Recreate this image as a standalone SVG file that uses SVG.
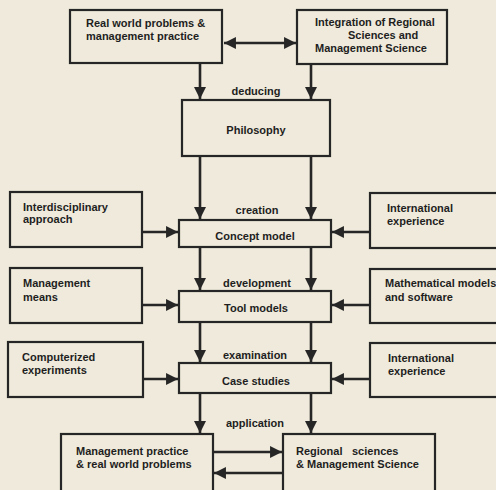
<svg xmlns="http://www.w3.org/2000/svg" width="496" height="490" viewBox="0 0 496 490">
<style>
.box{fill:none;stroke:#262626;stroke-width:2.2}
.ln{fill:none;stroke:#262626;stroke-width:2.6}
text{font-family:"Liberation Sans",Arial,sans-serif;font-weight:bold;font-size:11px;fill:#1e1e1e}
.c{text-anchor:middle}
</style>
<defs>
<marker id="ah" viewBox="0 0 10 10" refX="10" refY="5" markerWidth="4.6" markerHeight="4.6" orient="auto-start-reverse" markerUnits="strokeWidth">
<path d="M0,0 L10,5 L0,10 Z" fill="#262626"/>
</marker>
</defs>
<rect width="496" height="490" fill="#efeadb"/>
<g id="connectors">
<line class="ln" x1="224" y1="43" x2="296" y2="43" marker-start="url(#ah)" marker-end="url(#ah)"/>
<line class="ln" x1="200" y1="63" x2="200" y2="99"  marker-end="url(#ah)"/>
<line class="ln" x1="311" y1="64" x2="311" y2="99" marker-end="url(#ah)"/>
<line class="ln" x1="200" y1="156" x2="200" y2="219" marker-end="url(#ah)"/>
<line class="ln" x1="311" y1="156" x2="311" y2="219" marker-end="url(#ah)"/>
<line class="ln" x1="142" y1="232" x2="178" y2="232" marker-end="url(#ah)"/>
<line class="ln" x1="369" y1="232" x2="332" y2="232" marker-end="url(#ah)"/>
<line class="ln" x1="200" y1="247" x2="200" y2="290" marker-end="url(#ah)"/>
<line class="ln" x1="311" y1="247" x2="311" y2="290" marker-end="url(#ah)"/>
<line class="ln" x1="142" y1="305" x2="178" y2="305" marker-end="url(#ah)"/>
<line class="ln" x1="369" y1="305" x2="332" y2="305" marker-end="url(#ah)"/>
<line class="ln" x1="200" y1="322" x2="200" y2="362" marker-end="url(#ah)"/>
<line class="ln" x1="311" y1="322" x2="311" y2="362" marker-end="url(#ah)"/>
<line class="ln" x1="142" y1="379" x2="178" y2="379" marker-end="url(#ah)"/>
<line class="ln" x1="369" y1="379" x2="332" y2="379" marker-end="url(#ah)"/>
<line class="ln" x1="200" y1="393" x2="200" y2="433" marker-end="url(#ah)"/>
<line class="ln" x1="311" y1="393" x2="311" y2="433" marker-end="url(#ah)"/>
<line class="ln" x1="213" y1="452" x2="282" y2="452" marker-end="url(#ah)"/>
<line class="ln" x1="283" y1="473" x2="214" y2="473" marker-end="url(#ah)"/>
</g>
<g id="labels">
<text class="c" x="256" y="95">deducing</text>
<text class="c" x="257" y="214">creation</text>
<text class="c" x="257" y="287">development</text>
<text class="c" x="255" y="359">examination</text>
<text class="c" x="255" y="427">application</text>
</g>
<g id="real-world">
<rect class="box" x="70" y="10" width="152" height="53"/>
<text x="86" y="27">Real world problems &amp;</text>
<text x="86" y="40">management practice</text>
</g>
<g id="integration">
<rect class="box" x="297" y="10" width="150" height="54"/>
<text x="315" y="26">Integration of Regional</text>
<text x="348" y="39">Sciences and</text>
<text x="315" y="52">Management Science</text>
</g>
<g id="philosophy">
<rect class="box" x="182" y="100" width="148" height="56"/>
<text class="c" x="256" y="134">Philosophy</text>
</g>
<g id="interdisciplinary">
<rect class="box" x="10" y="192" width="132" height="55"/>
<text x="23" y="211">Interdisciplinary</text>
<text x="23" y="223">approach</text>
</g>
<g id="concept-model">
<rect class="box" x="179" y="220" width="152" height="27"/>
<text class="c" x="255" y="240">Concept model</text>
</g>
<g id="intl-exp-1">
<rect class="box" x="370" y="193" width="140" height="55"/>
<text x="387" y="212">International</text>
<text x="387" y="225">experience</text>
</g>
<g id="management-means">
<rect class="box" x="10" y="268" width="132" height="55"/>
<text x="23" y="287">Management</text>
<text x="23" y="301">means</text>
</g>
<g id="tool-models">
<rect class="box" x="179" y="291" width="152" height="31"/>
<text class="c" x="256" y="312">Tool models</text>
</g>
<g id="math-models">
<rect class="box" x="370" y="269" width="140" height="54"/>
<text x="385" y="287">Mathematical models</text>
<text x="385" y="301">and software</text>
</g>
<g id="computerized">
<rect class="box" x="8" y="342" width="135" height="55"/>
<text x="22" y="361">Computerized</text>
<text x="22" y="374">experiments</text>
</g>
<g id="case-studies">
<rect class="box" x="179" y="363" width="152" height="30"/>
<text class="c" x="256" y="385">Case studies</text>
</g>
<g id="intl-exp-2">
<rect class="box" x="370" y="343" width="140" height="54"/>
<text x="388" y="362">International</text>
<text x="388" y="375">experience</text>
</g>
<g id="mgmt-practice">
<rect class="box" x="61" y="434" width="152" height="64"/>
<text x="76" y="455">Management practice</text>
<text x="76" y="468">&amp; real world problems</text>
</g>
<g id="regional-sciences">
<rect class="box" x="283" y="434" width="152" height="64"/>
<text x="296" y="455">Regional<tspan x="352">sciences</tspan></text>
<text x="296" y="468">&amp; Management Science</text>
</g>
</svg>
